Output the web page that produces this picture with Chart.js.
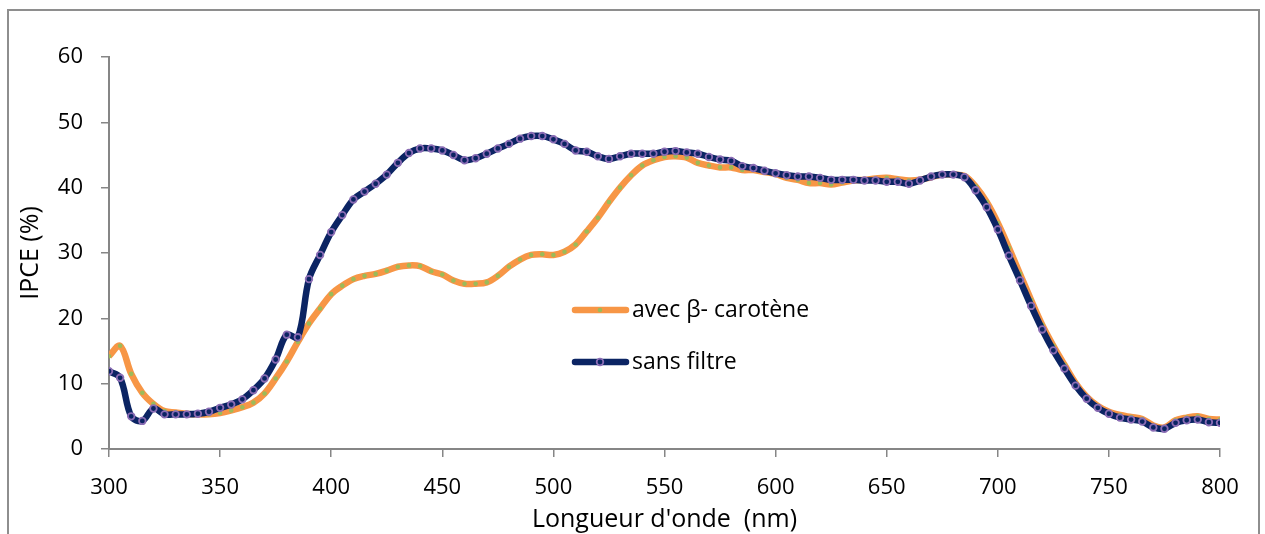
<!DOCTYPE html>
<html>
<head>
<meta charset="utf-8">
<script src="https://cdn.jsdelivr.net/npm/chart.js@4/dist/chart.umd.min.js"></script>
<style>
  html, body { margin: 0; padding: 0; background: #ffffff; }
  body { width: 1265px; height: 534px; position: relative; overflow: hidden; }
  #frame { position: absolute; left: 7px; top: 9px; width: 1253px; height: 600px;
           border: 2px solid #8e8e8e; box-sizing: border-box; }
  #wrap { position: absolute; left: 0; top: 0; width: 1265px; height: 534px; }
</style>
</head>
<body>
<div id="frame"></div>
<div id="wrap"><canvas id="chart" width="1265" height="534"></canvas></div>
<script>
// Longueur d'onde (nm)
const wavelengths = [
  300, 305, 310, 315, 320, 325, 330, 335, 340, 345,
  350, 355, 360, 365, 370, 375, 380, 385, 390, 395,
  400, 405, 410, 415, 420, 425, 430, 435, 440, 445,
  450, 455, 460, 465, 470, 475, 480, 485, 490, 495,
  500, 505, 510, 515, 520, 525, 530, 535, 540, 545,
  550, 555, 560, 565, 570, 575, 580, 585, 590, 595,
  600, 605, 610, 615, 620, 625, 630, 635, 640, 645,
  650, 655, 660, 665, 670, 675, 680, 685, 690, 695,
  700, 705, 710, 715, 720, 725, 730, 735, 740, 745,
  750, 755, 760, 765, 770, 775, 780, 785, 790, 795,
  800
];

// IPCE (%) avec filtre β-carotène
const ipceAvecCarotene = [
  14.2, 15.8, 11.5, 8.6, 6.9, 5.8, 5.6, 5.4, 5.3, 5.3,
  5.5, 5.9, 6.4, 7.1, 8.5, 10.8, 13.4, 16.4, 19.2, 21.5,
  23.7, 25.0, 26.0, 26.5, 26.8, 27.3, 27.9, 28.1, 28.0, 27.2,
  26.7, 25.8, 25.3, 25.3, 25.5, 26.5, 27.9, 29.0, 29.7, 29.8,
  29.7, 30.2, 31.3, 33.3, 35.4, 37.8, 40.0, 41.9, 43.4, 44.2,
  44.7, 44.8, 44.6, 43.8, 43.4, 43.1, 43.1, 42.7, 42.7, 42.4,
  42.1, 41.5, 41.2, 40.7, 40.7, 40.5, 40.8, 41.1, 41.2, 41.4,
  41.5, 41.3, 41.1, 41.2, 41.6, 42.0, 42.0, 41.8, 40.2, 37.8,
  34.6, 30.8, 26.8, 22.8, 19.0, 15.8, 12.9, 10.1, 8.0, 6.6,
  5.7, 5.2, 4.9, 4.6, 3.6, 3.3, 4.4, 4.8, 5.0, 4.6,
  4.5
];

// IPCE (%) sans filtre
const ipceSansFiltre = [
  11.9, 10.9, 5.0, 4.3, 6.2, 5.3, 5.3, 5.3, 5.4, 5.7,
  6.3, 6.8, 7.6, 9.0, 10.8, 13.7, 17.5, 17.1, 26.0, 29.7,
  33.2, 35.8, 38.2, 39.4, 40.6, 42.0, 43.8, 45.3, 46.0, 46.0,
  45.7, 45.0, 44.2, 44.5, 45.2, 46.0, 46.7, 47.5, 47.9, 47.9,
  47.4, 46.7, 45.7, 45.5, 44.8, 44.4, 44.8, 45.2, 45.2, 45.2,
  45.5, 45.6, 45.4, 45.2, 44.7, 44.3, 44.1, 43.3, 43.0, 42.6,
  42.2, 41.9, 41.7, 41.7, 41.5, 41.2, 41.2, 41.2, 41.1, 41.1,
  40.9, 40.9, 40.6, 41.1, 41.7, 42.0, 42.0, 41.6, 39.6, 37.0,
  33.6, 29.6, 25.8, 21.9, 18.3, 15.1, 12.3, 9.7, 7.7, 6.3,
  5.4, 4.8, 4.5, 4.2, 3.3, 3.1, 4.0, 4.4, 4.5, 4.1,
  4.0
];

const seriesLabels = ['avec β- carotène', 'sans filtre'];
const xTitle = "Longueur d'onde  (nm)";
const yTitle = 'IPCE (%)';

const FONT = '"Open Sans", "Noto Sans", sans-serif';
const AXIS_GREY = '#868686';

function toPoints(values) {
  return wavelengths.map((w, i) => ({ x: w, y: values[i] }));
}

// Legend drawn inside the plot, to the right of the centre
const insideLegend = {
  id: 'insideLegend',
  afterDatasetsDraw(chart) {
    const ctx = chart.ctx;
    const rows = [
      { ds: chart.data.datasets[0], y: 310 },
      { ds: chart.data.datasets[1], y: 362 }
    ];
    ctx.save();
    rows.forEach(r => {
      const ds = r.ds;
      ctx.beginPath();
      ctx.lineCap = 'round';
      ctx.strokeStyle = ds.borderColor;
      ctx.lineWidth = ds.borderWidth;
      ctx.moveTo(575, r.y);
      ctx.lineTo(626, r.y);
      ctx.stroke();
      ctx.beginPath();
      ctx.arc(600, r.y, ds.pointRadius, 0, Math.PI * 2);
      ctx.fillStyle = ds.pointBackgroundColor;
      ctx.fill();
      if (ds.pointBorderWidth > 0) {
        ctx.lineWidth = ds.pointBorderWidth;
        ctx.strokeStyle = ds.pointBorderColor;
        ctx.stroke();
      }
      ctx.fillStyle = '#000000';
      ctx.font = '23px ' + FONT;
      ctx.textAlign = 'left';
      ctx.textBaseline = 'middle';
      ctx.fillText(ds.label, 632, r.y);
    });
    ctx.restore();
  }
};

new Chart(document.getElementById('chart'), {
  type: 'line',
  data: {
    datasets: [
      {
        label: seriesLabels[0],
        data: toPoints(ipceAvecCarotene),
        borderColor: '#f79646',
        borderWidth: 6.5,
        backgroundColor: '#f79646',
        pointRadius: 2.3,
        pointBackgroundColor: '#9bbb59',
        pointBorderColor: '#9bbb59',
        pointBorderWidth: 0,
        tension: 0.35,
        order: 1
      },
      {
        label: seriesLabels[1],
        data: toPoints(ipceSansFiltre),
        borderColor: '#0b2463',
        borderWidth: 6.5,
        backgroundColor: '#0b2463',
        pointRadius: 3.3,
        pointBackgroundColor: '#0b2463',
        pointBorderColor: '#8a6cb4',
        pointBorderWidth: 1.8,
        tension: 0.35,
        order: 0
      }
    ]
  },
  options: {
    responsive: false,
    animation: false,
    layout: { padding: { top: 57, right: 45, left: 0, bottom: 0 } },
    plugins: {
      legend: { display: false },
      tooltip: { enabled: false }
    },
    scales: {
      x: {
        type: 'linear',
        min: 300,
        max: 800,
        afterFit(scale) { scale.height = 85; },
        ticks: {
          stepSize: 50,
          color: '#000000',
          font: { family: FONT, size: 22 },
          padding: 18,
          maxRotation: 0
        },
        grid: {
          display: true,
          drawOnChartArea: false,
          drawTicks: true,
          tickLength: 8,
          color: AXIS_GREY,
          lineWidth: 1.5
        },
        border: { display: true, color: AXIS_GREY, width: 2 },
        title: {
          display: true,
          text: xTitle,
          color: '#000000',
          font: { family: FONT, size: 25 },
          padding: { top: 0, bottom: -1 }
        }
      },
      y: {
        min: 0,
        max: 60,
        afterFit(scale) { scale.width = 109; },
        ticks: {
          stepSize: 10,
          color: '#000000',
          font: { family: FONT, size: 22 },
          padding: 18
        },
        grid: {
          display: true,
          drawOnChartArea: false,
          drawTicks: true,
          tickLength: 8,
          color: AXIS_GREY,
          lineWidth: 1.5
        },
        border: { display: true, color: AXIS_GREY, width: 2 },
        title: {
          display: true,
          text: yTitle,
          color: '#000000',
          font: { family: FONT, size: 25 },
          padding: { top: 16, bottom: 0 }
        }
      }
    }
  },
  plugins: [insideLegend]
});
</script>
</body>
</html>
